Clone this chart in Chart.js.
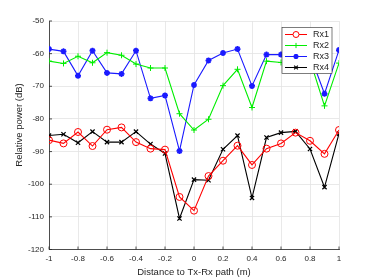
<!DOCTYPE html>
<html>
<head>
<meta charset="utf-8">
<script src="https://cdn.jsdelivr.net/npm/chart.js@4"></script>
<style>
  html, body { margin: 0; padding: 0; background: #fff; }
</style>
</head>
<body>
<canvas id="powerChart" width="374" height="280"></canvas>
<script>
// distance steps along the x axis (m)
const distances = [-1, -0.9, -0.8, -0.7, -0.6, -0.5, -0.4, -0.3, -0.2, -0.1, 0,
  0.1, 0.2, 0.3, 0.4, 0.5, 0.6, 0.7, 0.8, 0.9, 1];

// relative power per receiver (dB)
const rx1 = [-86.5, -87.5, -84.0, -88.3, -83.3, -82.6, -87.1, -89.1, -89.4, -103.9, -108.1,
  -97.5, -92.8, -88.2, -94.1, -89.1, -87.5, -84.2, -86.7, -90.7, -83.4];
const rx2 = [-62.3, -63.0, -60.8, -62.8, -59.7, -60.5, -63.2, -64.4, -64.4, -78.4, -83.4,
  -80.1, -69.8, -64.8, -76.5, -62.3, -62.7, -62.5, -62.0, -76.0, -62.9];
const rx3 = [-58.6, -59.3, -66.8, -59.1, -65.9, -66.2, -59.1, -73.7, -72.8, -89.8, -69.6,
  -62.1, -59.8, -58.6, -69.9, -60.3, -60.3, -60.5, -60.3, -72.3, -58.9];
const rx4 = [-85.1, -84.7, -87.3, -83.9, -87.1, -87.1, -83.9, -87.7, -90.6, -110.5, -98.6,
  -98.8, -89.3, -85.1, -104.2, -85.7, -84.2, -83.8, -89.2, -100.9, -84.5];

const xTicks = [-1, -0.8, -0.6, -0.4, -0.2, 0, 0.2, 0.4, 0.6, 0.8, 1];
const yTicks = [-120, -110, -100, -90, -80, -70, -60, -50];

const seriesNames = ["Rx1", "Rx2", "Rx3", "Rx4"];
const seriesColors = ["#ff0000", "#00ee00", "#1a1aff", "#000000"];
const seriesMarkers = ["circle", "cross", "star", "crossRot"];
const markerWidths = [1, 1, 1.7, 1.2];

const textColor = "#262626";
const fontFamily = "'Liberation Sans', Arial, sans-serif";

function toPoints(values) {
  return values.map((v, i) => ({ x: distances[i], y: v }));
}

const allSeries = [rx1, rx2, rx3, rx4];

// MATLAB-style inward ticks, boxed legend and y label
const matlabLook = {
  id: "matlabLook",
  afterDraw(chart) {
    const ctx = chart.ctx;
    const area = chart.chartArea;
    const xs = chart.scales.x;
    const ys = chart.scales.y;
    ctx.save();
    ctx.strokeStyle = textColor;
    ctx.lineWidth = 0.8;
    ctx.beginPath();
    xTicks.forEach((t) => {
      const px = xs.getPixelForValue(t);
      ctx.moveTo(px, area.bottom);
      ctx.lineTo(px, area.bottom - 3);
    });
    yTicks.forEach((t) => {
      const py = ys.getPixelForValue(t);
      ctx.moveTo(area.left, py);
      ctx.lineTo(area.left + 3, py);
    });
    ctx.stroke();

    // y axis label
    ctx.fillStyle = textColor;
    ctx.font = "9.5px " + fontFamily;
    ctx.textAlign = "center";
    ctx.textBaseline = "middle";
    ctx.translate(19, 125);
    ctx.rotate(-Math.PI / 2);
    ctx.fillText("Relative power (dB)", 0, 0);
    ctx.restore();

    // legend box
    ctx.save();
    const bx = 282, by = 27.5, bw = 50, bh = 46;
    ctx.fillStyle = "#fff";
    ctx.fillRect(bx, by, bw, bh);
    ctx.strokeStyle = "#262626";
    ctx.lineWidth = 0.6;
    ctx.strokeRect(bx, by, bw, bh);
    ctx.font = "9px " + fontFamily;
    ctx.textAlign = "left";
    ctx.textBaseline = "middle";
    seriesNames.forEach((name, i) => {
      const y = by + 7 + i * 11;
      ctx.strokeStyle = seriesColors[i];
      ctx.lineWidth = 1;
      ctx.beginPath();
      ctx.moveTo(bx + 3, y);
      ctx.lineTo(bx + 25, y);
      ctx.stroke();
      ctx.lineWidth = markerWidths[i];
      Chart.helpers.drawPoint(ctx, {
        pointStyle: seriesMarkers[i],
        radius: i === 0 ? 3 : 2.6,
        borderWidth: markerWidths[i],
      }, bx + 14, y);
      ctx.fillStyle = textColor;
      ctx.fillText(name, bx + 31, y + 0.5);
    });
    ctx.restore();
  },
};

const ctx = document.getElementById("powerChart").getContext("2d");
new Chart(ctx, {
  type: "line",
  data: {
    datasets: allSeries.map((vals, i) => ({
      label: seriesNames[i],
      data: toPoints(vals),
      borderColor: seriesColors[i],
      backgroundColor: "rgba(0,0,0,0)",
      pointBorderColor: seriesColors[i],
      pointBackgroundColor: "rgba(0,0,0,0)",
      pointStyle: seriesMarkers[i],
      pointRadius: i === 0 ? 3.5 : 3,
      pointBorderWidth: markerWidths[i],
      borderWidth: 1.1,
      tension: 0,
      fill: false,
    })),
  },
  options: {
    responsive: false,
    animation: false,
    devicePixelRatio: 1,
    layout: { padding: { left: 0, right: 35, top: 21, bottom: 0 } },
    plugins: {
      legend: { display: false },
      tooltip: { enabled: false },
    },
    scales: {
      x: {
        type: "linear",
        min: -1,
        max: 1,
        afterBuildTicks: (scale) => {
          scale.ticks = xTicks.map((v) => ({ value: v }));
        },
        afterFit: (scale) => {
          scale.height = 30.5;
        },
        ticks: {
          autoSkip: false,
          maxRotation: 0,
          padding: 4,
          color: textColor,
          font: { family: fontFamily, size: 8 },
          callback: (v) => String(Math.round(v * 10) / 10),
        },
        grid: { color: "#e3e3e3", lineWidth: 0.8, drawTicks: false },
        border: { color: textColor, width: 0.8 },
        title: {
          display: true,
          text: "Distance to Tx-Rx path (m)",
          color: textColor,
          font: { family: fontFamily, size: 9.5 },
          padding: { top: 0, bottom: 2 },
        },
      },
      y: {
        min: -120,
        max: -50,
        afterBuildTicks: (scale) => {
          scale.ticks = yTicks.map((v) => ({ value: v }));
        },
        afterFit: (scale) => {
          scale.width = 49;
        },
        ticks: {
          autoSkip: false,
          padding: 5,
          color: textColor,
          font: { family: fontFamily, size: 8 },
        },
        grid: { color: "#e3e3e3", lineWidth: 0.8, drawTicks: false },
        border: { color: textColor, width: 0.8 },
      },
    },
  },
  plugins: [matlabLook],
});
</script>
</body>
</html>
